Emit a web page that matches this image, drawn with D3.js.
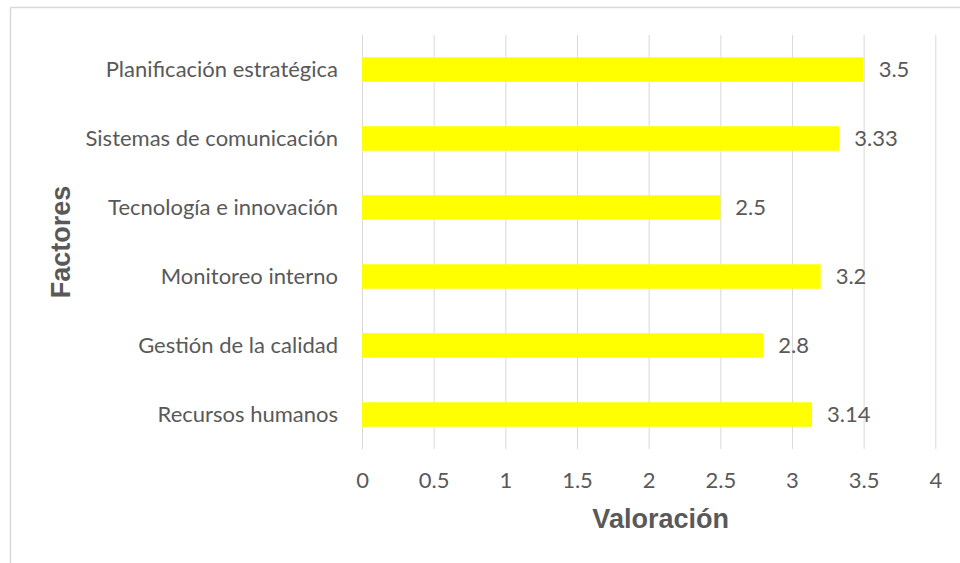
<!DOCTYPE html>
<html><head><meta charset="utf-8">
<script src="https://cdn.jsdelivr.net/npm/d3@7"></script>
<style>html,body{margin:0;padding:0;background:#fff;overflow:hidden}</style>
</head><body>
<svg id="chart" width="960" height="563"></svg>
<script>
const categories = ["Planificación estratégica","Sistemas de comunicación","Tecnología e innovación","Monitoreo interno","Gestión de la calidad","Recursos humanos"];
const values = [3.5, 3.33, 2.5, 3.2, 2.8, 3.14];
const valueLabels = ["3.5","3.33","2.5","3.2","2.8","3.14"];
const xTicks = [0,0.5,1,1.5,2,2.5,3,3.5,4];
const xTitle = "Valoración";
const yTitle = "Factores";

const svg = d3.select("#chart");
const W = 960, H = 563;
const m = {left: 362, right: 960-935.3, top: 35, bottom: 563-449};
const font = "Lato, Calibri, Carlito, sans-serif";
const txt = "#595959";
const fs = 22;

svg.append("rect").attr("x",10.5).attr("y",7.5).attr("width",980).attr("height",600)
  .attr("fill","#fff").attr("stroke","#d9d9d9").attr("stroke-width",1.5);

const x = d3.scaleLinear().domain([0,4]).range([m.left, W-m.right]);
const y = d3.scaleBand().domain(categories).range([m.top, H-m.bottom]).paddingInner(0.645).paddingOuter(0.3225);

// gridlines
svg.append("g").selectAll("line").data(xTicks).join("line")
  .attr("x1",d=>x(d)+0.5).attr("x2",d=>x(d)+0.5)
  .attr("y1",m.top).attr("y2",H-m.bottom)
  .attr("stroke","#d9d9d9").attr("stroke-width",1);

// x axis labels
const xAxis = d3.axisBottom(x).tickValues(xTicks).tickSize(0).tickPadding(0).tickFormat(d3.format("~g"));
const gx = svg.append("g").attr("transform",`translate(0,${H-m.bottom+23})`).call(xAxis);
gx.select(".domain").remove();
gx.selectAll("text").attr("font-family",font).attr("font-size",fs).attr("fill",txt).attr("dy","0.71em");

// y axis labels
const yAxis = d3.axisLeft(y).tickSize(0).tickPadding(24);
const gy = svg.append("g").attr("transform",`translate(${m.left},0)`).call(yAxis);
gy.select(".domain").remove();
gy.selectAll("text").attr("font-family",font).attr("font-size",fs).attr("fill",txt);

// bars
svg.append("g").selectAll("rect").data(values).join("rect")
  .attr("x",x(0)).attr("y",(d,i)=>y(categories[i]))
  .attr("width",d=>x(d)-x(0)).attr("height",y.bandwidth())
  .attr("fill","#ffff00");

// value labels
svg.append("g").selectAll("text").data(values).join("text")
  .attr("x",d=>x(d)+15).attr("y",(d,i)=>y(categories[i])+y.bandwidth()/2)
  .attr("dy","0.35em").attr("font-family",font).attr("font-size",fs).attr("fill",txt)
  .text((d,i)=>valueLabels[i]);

// titles
svg.append("text").attr("x",x(2)+12).attr("y",519).attr("dy","0.35em").attr("text-anchor","middle")
  .attr("font-family","Liberation Sans, Arial, sans-serif").attr("font-weight","bold").attr("font-size",27).attr("fill",txt).text(xTitle);
svg.append("text").attr("transform",`translate(61,${242}) rotate(-90)`).attr("dy","0.35em").attr("text-anchor","middle")
  .attr("font-family","Liberation Sans, Arial, sans-serif").attr("font-weight","bold").attr("font-size",27).attr("fill",txt).text(yTitle);
</script>
</body></html>
